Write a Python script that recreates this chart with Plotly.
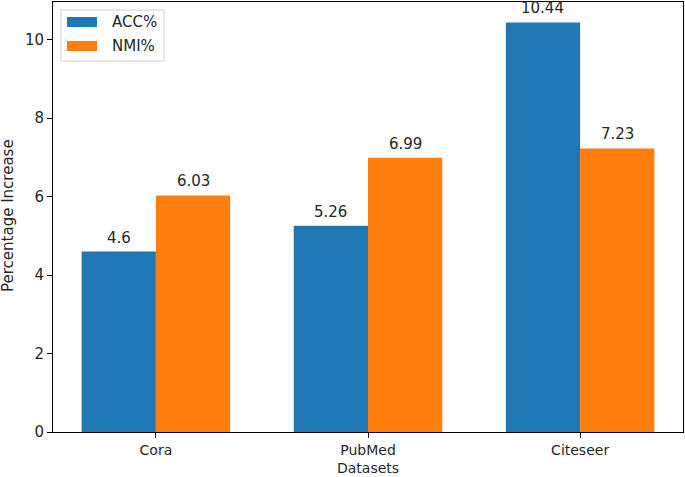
import plotly.graph_objects as go

datasets = ["Cora", "PubMed", "Citeseer"]
acc = [4.6, 5.26, 10.44]
nmi = [6.03, 6.99, 7.23]
series_names = ["ACC%", "NMI%"]
colors = ["#1f77b4", "#ff7f0e"]

W, H = 685, 477
L, R, T, B = 53, 2, 2, 45
PW, PH = W - L - R, H - T - B
XR = [-0.485, 2.485]
YR = [0, 10.962]
BAR_W = 0.35

def px_x(px):
    return (px - L) / PW

def px_y(py):
    return (H - B - py) / PH

font = dict(family="DejaVu Sans", size=15, color="#262626")
small = dict(family="DejaVu Sans", size=14, color="#262626")

fig = go.Figure()
for name, vals, col in zip(series_names, [acc, nmi], colors):
    fig.add_trace(go.Bar(x=datasets, y=vals, name=name, marker=dict(color=col, line=dict(width=0)),
                         showlegend=False))

# value labels above bars
half_px = BAR_W / 2 * PW / (XR[1] - XR[0])
for si, vals in enumerate([acc, nmi]):
    sh = -half_px if si == 0 else half_px
    for cat, v in zip(datasets, vals):
        fig.add_annotation(x=cat, y=v, text=f"{v:g}", showarrow=False, xshift=sh, yshift=14,
                           font=font, yanchor="middle")

# custom legend (matplotlib style)
fig.add_shape(type="rect", xref="paper", yref="paper", x0=px_x(61), x1=px_x(164), y0=px_y(61), y1=px_y(10),
              line=dict(color="#d0d0d0", width=1), fillcolor="rgba(255,255,255,0.8)", layer="above")
for i, (name, col) in enumerate(zip(series_names, colors)):
    cy = 22 + 24 * i
    fig.add_shape(type="rect", xref="paper", yref="paper", x0=px_x(67), x1=px_x(97),
                  y0=px_y(cy + 5), y1=px_y(cy - 5), line=dict(width=0), fillcolor=col, layer="above")
    fig.add_annotation(xref="paper", yref="paper", x=px_x(110), y=px_y(cy), text=name, showarrow=False,
                       xanchor="left", yanchor="middle", font=font)

# axis titles
fig.add_annotation(xref="paper", yref="paper", x=px_x(368), y=px_y(468), text="Datasets", showarrow=False,
                   xanchor="center", yanchor="middle", font=small, borderpad=0)
fig.add_annotation(xref="paper", yref="paper", x=px_x(8), y=px_y(216), text="Percentage Increase", showarrow=False,
                   xanchor="center", yanchor="middle", textangle=-90, font=font)

fig.update_layout(
    width=W, height=H,
    margin=dict(l=L, r=R, t=T, b=B, autoexpand=False),
    barmode="group", bargap=0.3, bargroupgap=0,
    plot_bgcolor="white", paper_bgcolor="white",
    font=font,
    showlegend=False,
    xaxis=dict(range=XR, showline=True, linecolor="black", linewidth=1, mirror=True, automargin=False,
               ticks="outside", ticklen=5, tickcolor="black", showgrid=False, tickfont=small),
    yaxis=dict(range=YR, showline=True, linecolor="black", linewidth=1, mirror=True, automargin=False,
               ticks="outside", ticklen=5, tickcolor="black", showgrid=False, zeroline=False,
               tickvals=[0, 2, 4, 6, 8, 10]),
)

fig.write_html("out.html", config={"displayModeBar": False},
               post_script="document.body.style.margin='0';document.body.style.overflow='hidden';")
